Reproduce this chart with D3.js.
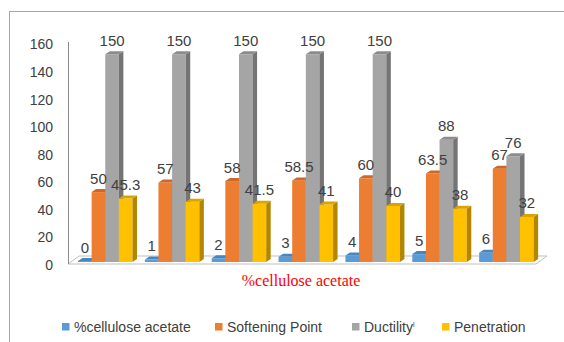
<!DOCTYPE html>
<html>
<head>
<meta charset="utf-8">
<script src="https://cdn.jsdelivr.net/npm/d3@7"></script>
<style>
  body { margin: 0; background: #fff; }
  svg { display: block; }
  text { font-family: "Liberation Sans", Arial, sans-serif; fill: #404040; }
</style>
</head>
<body>
<svg id="chart" width="564" height="342"></svg>
<script>
var categories = ["0", "1", "2", "3", "4", "5", "6"];
var seriesNames = ["%cellulose acetate", "Softening Point", "Ductility", "Penetration"];
var celluloseAcetate = [0, 1, 2, 3, 4, 5, 6];
var softeningPoint = [50, 57, 58, 58.5, 60, 63.5, 67];
var ductility = [150, 150, 150, 150, 150, 88, 76];
var penetration = [45.3, 43, 41.5, 41, 40, 38, 32];
var yTicks = [0, 20, 40, 60, 80, 100, 120, 140, 160];

var colors = ["#5B9BD5", "#ED7D31", "#A5A5A5", "#FFC000"];
var sideColors = ["#3F75A8", "#B65A1C", "#747474", "#B38600"];
var topColors = ["#4A86BE", "#CC6828", "#8C8C8C", "#D9A300"];

var seriesValues = [celluloseAcetate, softeningPoint, ductility, penetration];
var dx = 4.5, dy = -3;

var svg = d3.select("#chart");

// outer frame (runs off the right and bottom of the picture)
svg.append("rect")
    .attr("x", 9.5).attr("y", 11.5)
    .attr("width", 620).attr("height", 400)
    .attr("fill", "none")
    .attr("stroke", "#a6a6a6");

var yScale = d3.scaleLinear().domain([0, 160]).range([264, 43.5]);
var x0 = d3.scaleBand().domain(categories).range([68, 536]);
var x1 = d3.scaleBand().domain(seriesNames).range([10, 64.5]);

// floor
var floorL = 68, floorR = 536, floorY = yScale(0);
svg.append("path")
    .attr("d", `M ${floorL} ${floorY} L ${floorR} ${floorY} ` +
        `L ${floorR + 11} ${floorY - 8} L ${floorL + 11} ${floorY - 8} Z`)
    .attr("fill", "#fff")
    .attr("stroke", "#bfbfbf");

// value axis
svg.append("line")
    .attr("x1", 68.5).attr("x2", 68.5)
    .attr("y1", 42).attr("y2", floorY)
    .attr("stroke", "#8c8c8c");
svg.selectAll("text.tick")
    .data(yTicks)
    .enter().append("text")
        .attr("class", "tick")
        .attr("x", 53)
        .attr("y", function(d) { return yScale(d) + 1; })
        .attr("dy", "0.35em")
        .attr("text-anchor", "end")
        .style("font-size", "14px")
        .text(function(d) { return d; });

// bars, drawn left to right so that each bar hides the side of the one before
var bars = [];
categories.forEach(function(c, ci) {
  seriesNames.forEach(function(s, si) {
    bars.push({cat: c, series: s, si: si, value: seriesValues[si][ci]});
  });
});

var bar = svg.selectAll("g.bar")
    .data(bars)
    .enter().append("g")
        .attr("class", "bar");

function geom(d) {
  var x = x0(d.cat) + x1(d.series);
  var w = x1.bandwidth();
  var top = yScale(d.value) - 3;
  var bot = yScale(0) - 2;
  return {x: x, w: w, top: top, bot: bot};
}

bar.append("rect")
    .attr("x", function(d) { return geom(d).x; })
    .attr("y", function(d) { return geom(d).top; })
    .attr("width", function(d) { return geom(d).w; })
    .attr("height", function(d) { var g = geom(d); return Math.max(0.5, g.bot - g.top); })
    .attr("fill", function(d) { return colors[d.si]; });

bar.append("path")
    .attr("d", function(d) {
      var g = geom(d);
      return `M ${g.x + g.w} ${g.top} L ${g.x + g.w + dx} ${g.top + dy} ` +
          `L ${g.x + g.w + dx} ${g.bot + dy} L ${g.x + g.w} ${g.bot} Z`;
    })
    .attr("fill", function(d) { return sideColors[d.si]; });

bar.append("path")
    .attr("d", function(d) {
      var g = geom(d);
      return `M ${g.x} ${g.top} L ${g.x + dx} ${g.top + dy} ` +
          `L ${g.x + g.w + dx} ${g.top + dy} L ${g.x + g.w} ${g.top} Z`;
    })
    .attr("fill", function(d) { return topColors[d.si]; });

// data labels
svg.selectAll("text.value")
    .data(bars)
    .enter().append("text")
        .attr("class", "value")
        .attr("x", function(d) { var g = geom(d); return g.x + g.w / 2; })
        .attr("y", function(d) { return geom(d).top - 8.5; })
        .attr("text-anchor", "middle")
        .style("font-size", "15px")
        .text(function(d) { return d.value; });

// category axis title
svg.append("text")
    .attr("x", 301)
    .attr("y", 286)
    .attr("text-anchor", "middle")
    .style("font-family", "'Liberation Serif', 'Times New Roman', serif")
    .style("font-size", "16px")
    .style("fill", "#ff0000")
    .text("%cellulose acetate");

// legend
var legendX = [62, 215, 352, 442];
var legend = svg.selectAll("g.legend")
    .data(seriesNames)
    .enter().append("g")
        .attr("class", "legend")
        .attr("transform", function(d, i) { return `translate(${legendX[i]}, 0)`; });
legend.append("rect")
    .attr("x", 0).attr("y", 323)
    .attr("width", 7.5).attr("height", 7.5)
    .attr("fill", function(d, i) { return colors[i]; });
var legendText = legend.append("text")
    .attr("x", 12)
    .attr("y", 331.5)
    .style("font-size", "14px")
    .text(function(d) { return d; });
legendText.filter(function(d) { return d == "Ductility"; })
    .append("tspan")
        .attr("dy", -5)
        .style("font-size", "7px")
        .text("l");
</script>
</body>
</html>
